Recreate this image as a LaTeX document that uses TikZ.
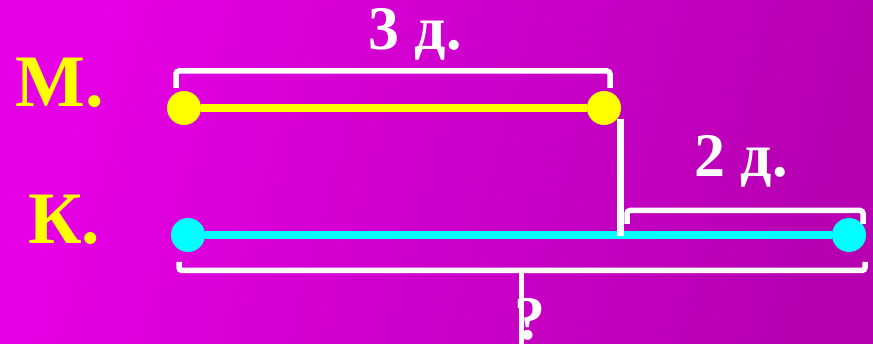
\documentclass[tikz,border=0pt]{standalone}
\usepackage{fontspec}
\setmainfont{Liberation Serif}
\definecolor{bgL}{RGB}{230,0,230}
\definecolor{bgR}{RGB}{182,0,178}
\definecolor{yel}{RGB}{255,255,0}
\definecolor{cya}{RGB}{0,255,255}
\begin{document}
\begin{tikzpicture}[x=1pt,y=-1pt,
  ydot/.style={circle,fill=yel,inner sep=0pt,minimum size=34pt},
  cdot/.style={circle,fill=cya,inner sep=0pt,minimum size=34pt},
  bracket/.style={draw=white,line width=5.5pt,rounded corners=3pt},
  lbl/.style={text=white,font=\bfseries\fontsize{62}{62}\selectfont,anchor=base,inner sep=0pt},
  personlbl/.style={text=yel,font=\bfseries\fontsize{74}{74}\selectfont,anchor=base west,inner sep=0pt}]
\useasboundingbox (0,0) rectangle (873,344);
\shade[left color=bgL,right color=bgR,shading angle=75] (0,0) rectangle (873,344);
% names
\node[personlbl] (nm) at (15,107) {М.};
\node[personlbl] (nk) at (28,244) {К.};
% dots
\node[ydot] (m1) at (184,108) {};
\node[ydot] (m2) at (604,108) {};
\node[cdot] (k1) at (188,235) {};
\node[cdot] (k2) at (849,235) {};
\draw[yel,line width=8pt] (m1) -- (m2);
\draw[cya,line width=8pt] (k1) -- (k2);
% vertical divider
\coordinate (v1) at (620.5,119);
\coordinate (v2) at (620.5,236);
\draw[white,line width=7pt] (v1) -- (v2);
% top bracket
\coordinate (t1) at (176,88);
\coordinate (t2) at (610,88);
\draw[bracket] (t1) -- (176,71) -- (610,71) -- (t2);
\node[lbl] (l3) at (415,50) {3 д.};
% right bracket
\coordinate (r1) at (627,224);
\coordinate (r2) at (863,224);
\draw[bracket] (r1) -- (627,210.5) -- (863,210.5) -- (r2);
\node[lbl] (l2) at (741,177) {2 д.};
% bottom bracket
\coordinate (b1) at (179,262);
\coordinate (b2) at (865,262);
\draw[bracket] (b1) -- (179,270.5) -- (865,270.5) -- (b2);
\node[lbl] (q) at (530,340) {?};
\coordinate (bt) at (521.5,270.5);
\coordinate (bb) at (521.5,346);
\draw[white,line width=5pt] (bt) -- (bb);
\end{tikzpicture}
\end{document}
